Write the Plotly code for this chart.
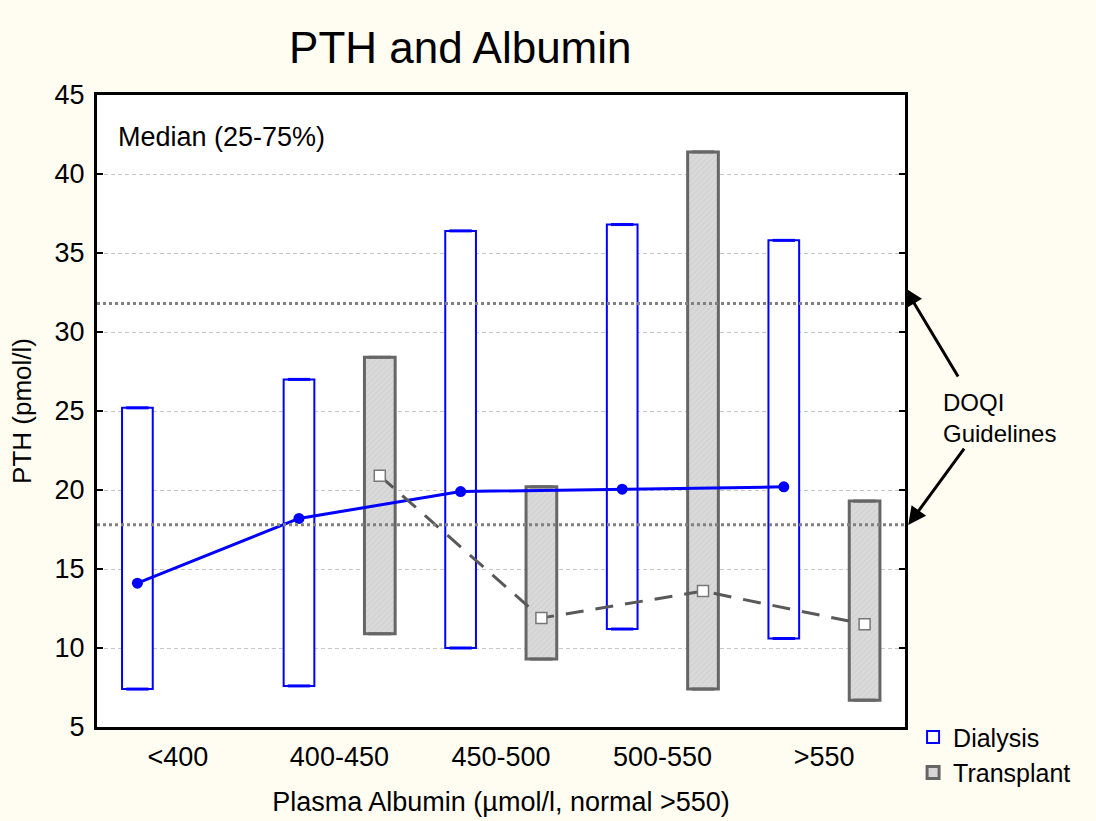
import plotly.graph_objects as go

categories = ["<400", "400-450", "450-500", "500-550", ">550"]

dial_q1 = [7.4, 7.6, 10.0, 11.2, 10.6]
dial_median = [14.1, 18.2, 19.9, 20.05, 20.2]
dial_q3 = [25.2, 27.0, 36.4, 36.8, 35.8]

trans_cats = ["400-450", "450-500", "500-550", ">550"]
trans_q1 = [10.9, 9.3, 7.4, 6.7]
trans_median = [20.9, 11.9, 13.6, 11.5]
trans_q3 = [28.4, 20.2, 41.4, 19.3]

doqi_levels = [31.8, 17.8]

FONT = "Liberation Sans, Arial, sans-serif"
BG = "#FFFCF1"
OFF = 0.25
W = 0.19

xd = [categories.index(c) - OFF for c in categories]
xt = [categories.index(c) + OFF for c in trans_cats]

fig = go.Figure()

fig.add_trace(go.Bar(
    x=xd, y=[q3 - q1 for q1, q3 in zip(dial_q1, dial_q3)], base=dial_q1, width=W,
    name="Dialysis", marker=dict(color="white", line=dict(color="#0000FF", width=2)),
    legendrank=1,
))
fig.add_trace(go.Bar(
    x=xt, y=[q3 - q1 for q1, q3 in zip(trans_q1, trans_q3)], base=trans_q1, width=W,
    name="Transplant",
    marker=dict(color="#D6D6D6", line=dict(color="#666666", width=3),
                pattern=dict(shape="/", bgcolor="#DADADA", fgcolor="#C6C6C6", size=4, solidity=0.3)),
    legendrank=2,
))
# caps
fig.add_trace(go.Scatter(x=xd + xd, y=dial_q1 + dial_q3, mode="markers", showlegend=False,
                         marker=dict(symbol="line-ew", size=16, line=dict(color="#0000FF", width=3)),
                         hoverinfo="skip"))
fig.add_trace(go.Scatter(x=xt + xt, y=trans_q1 + trans_q3, mode="markers", showlegend=False,
                         marker=dict(symbol="line-ew", size=16, line=dict(color="#666666", width=3)),
                         hoverinfo="skip"))
# medians
fig.add_trace(go.Scatter(x=xd, y=dial_median, mode="lines+markers", showlegend=False,
                         line=dict(color="#0000FF", width=3),
                         marker=dict(symbol="circle", size=11, color="#0000FF")))
fig.add_trace(go.Scatter(x=xt, y=trans_median, mode="lines+markers", showlegend=False,
                         line=dict(color="#595959", width=3, dash="18px,12px"),
                         marker=dict(symbol="square", size=11, color="white",
                                     line=dict(color="#777777", width=1.5))))

for lv in doqi_levels:
    fig.add_shape(type="line", xref="paper", x0=0, x1=1, yref="y", y0=lv, y1=lv,
                  line=dict(color="#808080", width=3, dash="dot"), layer="above")

fig.add_annotation(text="Median (25-75%)", xref="paper", yref="paper", x=0.024, y=0.934,
                   xanchor="left", yanchor="middle", showarrow=False,
                   font=dict(size=27, color="black", family=FONT))
fig.add_annotation(text="DOQI<br>Guidelines", xref="paper", yref="paper", x=1.045, y=0.489,
                   xanchor="left", yanchor="middle", align="left", showarrow=False,
                   font=dict(size=24, color="black", family=FONT))
fig.add_annotation(text="", xref="paper", yref="paper", x=1.0, y=0.6946, ax=54, ay=90,
                   showarrow=True, arrowhead=2, arrowsize=1.2, arrowwidth=3, arrowcolor="black")
fig.add_annotation(text="", xref="paper", yref="paper", x=1.004, y=0.3196, ax=57, ay=-78,
                   showarrow=True, arrowhead=2, arrowsize=1.2, arrowwidth=3, arrowcolor="black")

fig.update_layout(
    width=1096, height=821,
    paper_bgcolor=BG, plot_bgcolor="white",
    margin=dict(l=97, r=191, t=95, b=94),
    barmode="overlay",
    font=dict(family=FONT, color="black", size=27),
    title=dict(text="PTH and Albumin", x=0.42, xref="container", y=0.942, yref="container",
               xanchor="center", yanchor="middle", font=dict(size=44, family=FONT, color="black")),
    showlegend=True,
    legend=dict(x=1.01, y=0.02, xanchor="left", yanchor="top", bgcolor="rgba(0,0,0,0)",
                font=dict(size=25, family=FONT, color="black"), tracegroupgap=0,
                itemwidth=30),
)
fig.update_xaxes(
    range=[-0.5, 4.5], tickmode="array", tickvals=list(range(len(categories))), ticktext=categories,
    showgrid=False, zeroline=False, showline=True, linecolor="black", linewidth=3, mirror=True,
    ticks="", tickfont=dict(size=27), ticklabelstandoff=4, automargin=False,
    title=dict(text="Plasma Albumin (µmol/l, normal >550)", font=dict(size=27), standoff=21),
)
fig.update_yaxes(
    range=[5, 45], tickmode="array", tickvals=list(range(5, 50, 5)),
    showgrid=True, gridcolor="#C8C8C8", griddash="4px,3px", gridwidth=1, zeroline=False,
    showline=True, linecolor="black", linewidth=3, mirror="ticks", automargin=False,
    ticks="inside", ticklen=6, tickwidth=2, tickcolor="black", tickfont=dict(size=27),
    ticklabelstandoff=4,
    title=dict(text="PTH (pmol/l)", font=dict(size=26), standoff=16),
)

fig.write_html("out.html")
